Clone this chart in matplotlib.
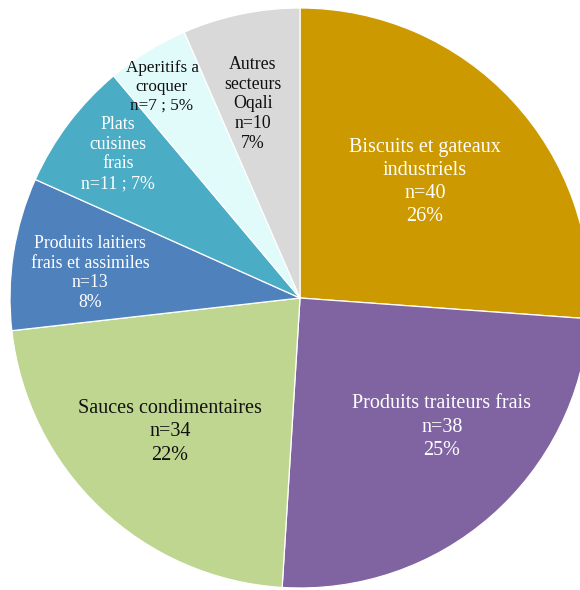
import matplotlib.pyplot as plt

# sector counts, clockwise from 12 o'clock
sectors = ['Biscuits et gateaux\nindustriels', 'Produits traiteurs frais',
           'Sauces condimentaires', 'Produits laitiers\nfrais et assimiles',
           'Plats\ncuisines\nfrais', 'Aperitifs a\ncroquer', 'Autres\nsecteurs\nOqali']
counts = [40, 38, 34, 13, 11, 7, 10]
colors = ['#CC9900', '#8064A2', '#BED68F', '#4F81BD', '#4BACC6', '#E1FBFB', '#D9D9D9']
text_colors = ['white', 'white', '#111111', 'white', 'white', '#111111', '#111111']
# compact labels put n and % on one line
compact = [False, False, False, False, True, True, False]
font_sizes = [14.5, 14.5, 14.5, 12.8, 12.8, 12.3, 12.8]
# label centres in pixels (x from left, y from top)
label_px = [(425, 182), (442, 427), (170, 432), (90, 273), (118, 154), (162, 87), (253, 104)]

W, H = 580, 590
cx, cy, R = 300, 298, 290

fig = plt.figure(figsize=(W / 100, H / 100), dpi=100)
ax = fig.add_axes([0, 0, 1, 1])
ax.pie(counts, colors=colors, startangle=90, counterclock=False, radius=1,
       wedgeprops=dict(edgecolor='white', linewidth=0.9))
ax.set_xlim(-cx / R, (W - cx) / R)
ax.set_ylim(-(H - cy) / R, cy / R)
ax.set_aspect('equal')
ax.axis('off')

total = sum(counts)
for name, n, tc, cmp, fs, (px, py) in zip(sectors, counts, text_colors, compact, font_sizes, label_px):
    pct = round(100 * n / total)
    if cmp:
        txt = f'{name}\nn={n} ; {pct}%'
    else:
        txt = f'{name}\nn={n}\n{pct}%'
    ax.text((px - cx) / R, (cy - py) / R, txt, ha='center', va='center',
            color=tc, fontsize=fs, family='Liberation Serif',
            linespacing=1.3 if fs > 14 else 1.22)

fig.savefig('out.png', dpi=100)
